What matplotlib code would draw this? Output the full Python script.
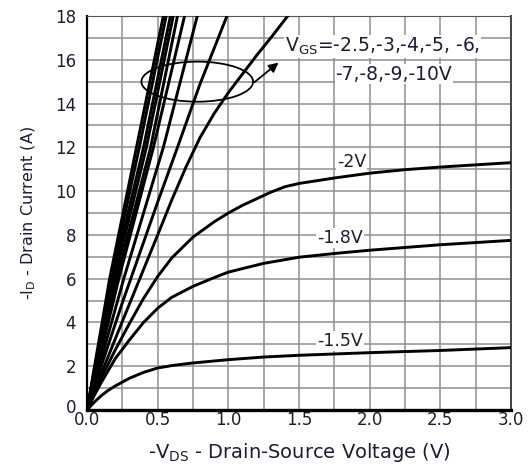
import numpy as np
import matplotlib.pyplot as plt
import matplotlib.transforms as mtransforms
from matplotlib.patches import Ellipse

plt.rcParams['font.family'] = ['DejaVu Sans']
plt.rcParams['mathtext.fontset'] = 'dejavusans'

text_color = '#1c1c34'

# Output characteristics per gate voltage: -V_DS (V) vs -I_D (A)
vds_15 = [0, 0.05, 0.1, 0.15, 0.2, 0.3, 0.4, 0.5, 0.6, 0.75, 1.0, 1.25, 1.5, 2.0, 2.5, 3.0]
id_15 = [0, 0.35, 0.65, 0.9, 1.1, 1.45, 1.72, 1.92, 2.03, 2.15, 2.3, 2.42, 2.5, 2.62, 2.72, 2.85]

vds_18 = [0, 0.05, 0.1, 0.2, 0.3, 0.4, 0.5, 0.6, 0.75, 0.9, 1.0, 1.25, 1.5, 1.75, 2.0, 2.5, 3.0]
id_18 = [0, 0.65, 1.25, 2.35, 3.2, 4.0, 4.65, 5.15, 5.65, 6.05, 6.3, 6.7, 6.98, 7.15, 7.3, 7.55, 7.75]

vds_20 = [0, 0.05, 0.1, 0.2, 0.3, 0.4, 0.5, 0.6, 0.75, 0.9, 1.0, 1.1, 1.2, 1.3, 1.4, 1.5,
          1.75, 2.0, 2.25, 2.5, 2.75, 3.0]
id_20 = [0, 0.75, 1.45, 2.75, 3.95, 5.1, 6.1, 6.95, 7.9, 8.6, 9.0, 9.35, 9.65, 9.95, 10.2, 10.35,
         10.6, 10.82, 10.98, 11.1, 11.2, 11.3]

vds_25 = [0, 0.1, 0.25, 0.5, 0.6, 0.7, 0.8, 0.9, 1.0, 1.1, 1.2, 1.3, 1.42, 1.55]
id_25 = [0, 1.65, 4.05, 8.0, 9.6, 11.1, 12.45, 13.55, 14.5, 15.35, 16.2, 17.0, 18.0, 18.9]

vds_30 = [0, 0.1, 0.25, 0.5, 0.64, 0.8, 0.99, 1.05]
id_30 = [0, 2.0, 4.9, 9.5, 12.0, 14.9, 18.0, 18.9]

# -4 V ... -10 V: voltage where each curve crosses 6 A, 12 A and 18 A
steep_vgs = [-4, -5, -6, -7, -8, -9, -10]
steep_v6 = [0.26, 0.225, 0.21, 0.195, 0.18, 0.17, 0.16]
steep_v12 = [0.54, 0.47, 0.45, 0.42, 0.40, 0.37, 0.35]
steep_v18 = [0.78, 0.69, 0.64, 0.61, 0.59, 0.56, 0.54]

fig = plt.figure(figsize=(5.29, 4.68), dpi=100)
ax = fig.add_axes([0.1645, 0.1239, 0.8015, 0.8419])

lw = 2.1
for v, i in [(vds_15, id_15), (vds_18, id_18), (vds_20, id_20),
             (vds_25, id_25), (vds_30, id_30)]:
    ax.plot(v, i, color='black', lw=lw, solid_joinstyle='round', zorder=3)
for v6, v12, v18 in zip(steep_v6, steep_v12, steep_v18):
    ax.plot([0, v6, v12, v18, v18 * 1.05], [0, 6.0, 12.0, 18.0, 18.9],
            color='black', lw=lw, solid_joinstyle='round', zorder=3)

ax.set_xlim(0, 3.0)
ax.set_ylim(0, 18)
ax.set_xticks(np.arange(0, 3.01, 0.5))
ax.set_xticks(np.arange(0, 3.01, 0.25), minor=True)
ax.set_yticks(np.arange(0, 18.1, 2))
ax.set_yticks(np.arange(0, 18.1, 1), minor=True)
ax.grid(True, which='both', color='#8f8f8f', lw=1.1, zorder=0)
ax.set_axisbelow(True)
ax.tick_params(which='both', length=0, labelsize=12, labelcolor=text_color)
ax.tick_params(axis='x', pad=1)
ax.tick_params(axis='y', pad=8)
ax.set_xticklabels(['0.0', '0.5', '1.0', '1.5', '2.0', '2.5', '3.0'])

# lift the "0" on the y axis a little so it clears "0.0" below it
lift = mtransforms.ScaledTranslation(0, 3 / 72, fig.dpi_scale_trans)
zero_label = ax.get_yticklabels()[0]
zero_label.set_transform(zero_label.get_transform() + lift)

for side in ['left', 'bottom']:
    ax.spines[side].set_color('black')
ax.spines['left'].set_linewidth(1.6)
ax.spines['bottom'].set_linewidth(2.4)
ax.spines['top'].set_color('#555555')
ax.spines['right'].set_color('#444444')
ax.spines['right'].set_linewidth(1.4)

ax.set_xlabel(r'-V$_{\mathrm{DS}}$ - Drain-Source Voltage (V)', fontsize=14,
              color=text_color, labelpad=8)
ax.set_ylabel(r'-I$_{\mathrm{D}}$ - Drain Current (A)', fontsize=11.5,
              color=text_color, labelpad=12)

# Group marker for the high gate-voltage curves
ax.add_patch(Ellipse((0.78, 15.0), 0.79, 1.83, fill=False, ec='black',
                     lw=1.3, zorder=4))
ax.annotate('', xy=(1.37, 15.95), xytext=(1.17, 14.9),
            arrowprops=dict(arrowstyle='-|>', color='black', lw=1.3,
                            mutation_scale=14), zorder=4)

box = dict(facecolor='white', edgecolor='none', pad=0.5)
ax.text(1.40, 16.6, r'V$_{\mathrm{GS}}$=-2.5,-3,-4,-5, -6,', fontsize=13.5,
        color=text_color, ha='left', va='center', bbox=box, zorder=5)
ax.text(2.17, 15.35, '-7,-8,-9,-10V', fontsize=13.5, color=text_color,
        ha='center', va='center', bbox=box, zorder=5)
ax.text(1.87, 11.35, '-2V', fontsize=12.5, color=text_color,
        ha='center', va='center', bbox=box, zorder=5)
ax.text(1.79, 7.85, '-1.8V', fontsize=12.5, color=text_color,
        ha='center', va='center', bbox=box, zorder=5)
ax.text(1.79, 3.15, '-1.5V', fontsize=12.5, color=text_color,
        ha='center', va='center', bbox=box, zorder=5)

fig.savefig('out.png', dpi=100)
